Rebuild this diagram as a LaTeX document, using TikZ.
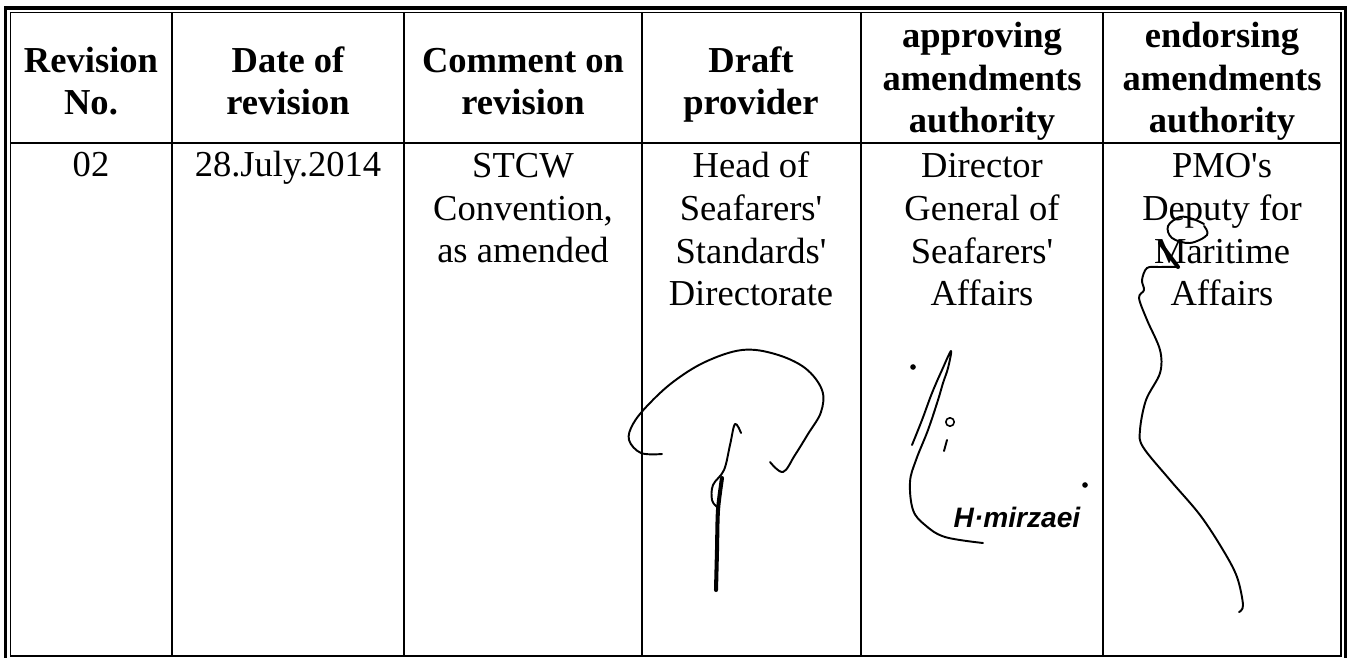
\documentclass[tikz,border=0pt]{standalone}
\usepackage{fontspec}
\setmainfont{Liberation Serif}
\newfontfamily\handfont{Liberation Sans}
\usepackage{tikz}
\usetikzlibrary{calc}

\begin{document}
\begin{tikzpicture}[x=0.02cm, y=-0.02cm,
  grid/.style={color=black, line width=0.9pt},
  frame/.style={color=black, line width=2pt},
  head/.style={align=center, anchor=base, inner sep=0pt,
    font=\fontsize{20.8}{24.4}\selectfont\bfseries},
  cell/.style={align=center, anchor=base, inner sep=0pt,
    font=\fontsize{20.8}{24.4}\selectfont},
  sig/.style={color=black, line width=1.1pt, line cap=round, line join=round},
  sigthick/.style={color=black, line width=2.3pt, line cap=round}]
%
\useasboundingbox (0,0) rectangle (1351,658);
% Cadre double
\draw[frame] (5.5,658) -- (5.5,8) -- (1345.5,8) -- (1345.5,658);
\draw[grid, line width=0.7pt] (10.5,656) -- (10.5,12.5) -- (1341,12.5) -- (1341,656) -- cycle;
% Ligne sous l'en-tete
\draw[grid] (10.5,143) -- (1341,143);
% Colonnes
\foreach \xc in {172,404,642,861,1103}
  \draw[grid] (\xc,12.5) -- (\xc,656);
% En-tete (base = derniere ligne)
\node[head] (h1) at (91,115) {Revision\\No.};
\node[head] (h2) at (288,115) {Date of\\revision};
\node[head] (h3) at (523,115) {Comment on\\revision};
\node[head] (h4) at (751,115) {Draft\\provider};
\node[head] (h5) at (982,133) {approving\\amendments\\authority};
\node[head] (h6) at (1222,133) {endorsing\\amendments\\authority};
% Ligne 1
\node[cell] (c1) at (91,177) {02};
\node[cell] (c2) at (288,177) {28.July.2014};
\node[cell] (c3) at (523,263) {STCW\\Convention,\\as amended};
\node[cell] (c4) at (751,306) {Head of\\Seafarers\textquotesingle\\Standards\textquotesingle\\Directorate};
\node[cell] (c5) at (982,306) {Director\\General of\\Seafarers\textquotesingle\\Affairs};
\node[cell] (c6) at (1222,306) {PMO\textquotesingle s\\Deputy for\\Maritime\\Affairs};
% Signature 1
\draw[sig] plot[smooth, tension=0.6] coordinates{(662,454) (641,453) (629,440) (633,424) (648,405) (673,382) (705,362) (742,350) (775,354) (805,368) (822,390) (821,412) (808,434) (795,455) (783,472) (770,462)};
\draw[sig] plot[smooth, tension=0.6] coordinates{(741,433) (735,424) (730,445) (724,470) (713,485) (712,500) (717,507)};
\draw[sigthick] plot[smooth] coordinates{(722,478) (718,510) (717,550) (716,590)};
% Signature 2
\draw[sig] plot[smooth, tension=0.6] coordinates{(912,445) (922,420) (932,393) (942,370) (951,351) (948,368) (943,383) (938,400) (928,430) (916,460) (910,482) (913,510) (925,525) (945,537) (983,543)};
\fill (913,367) circle (1.6pt);
\draw[sig, line width=0.9pt] (950,422) circle (2.4pt);
\draw[sig] (947,440) -- (944,451);
\node[anchor=base, inner sep=0pt, font=\fontsize{16}{18}\selectfont\handfont\itshape\bfseries] (hm) at (1017,527) {H·mirzaei};
\fill (1085,485) circle (1.6pt);
% Signature 3
\draw[sig] plot[smooth, tension=0.6] coordinates{(1204,224) (1193,219) (1180,217) (1168,226) (1172,238) (1190,243) (1207,235) (1204,226)};
\draw[sigthick] (1160,243) -- (1178,267);
\draw[sig] plot[smooth, tension=0.55] coordinates{(1178,267) (1160,267) (1147,268) (1142,280) (1144,290) (1139,298) (1147,320) (1160,350) (1160,373) (1146,400) (1140,430) (1143,447) (1170,480) (1200,515) (1223,550) (1237,577) (1243,605) (1239,612)};
\end{tikzpicture}
\end{document}
